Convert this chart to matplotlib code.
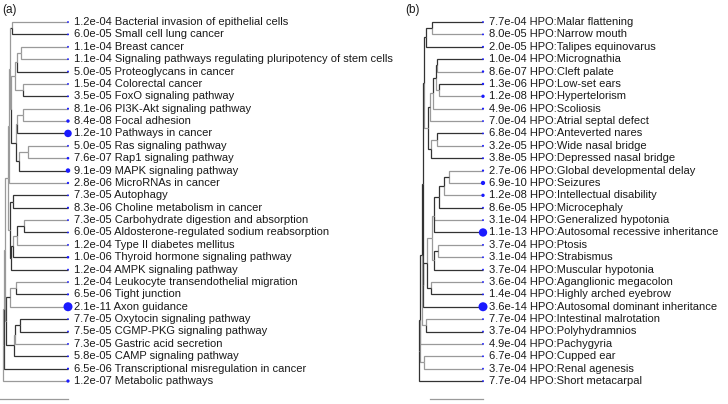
import math
import matplotlib
matplotlib.use("Agg")
import matplotlib.pyplot as plt

plt.rcParams['font.family'] = ['Liberation Sans', 'DejaVu Sans']

# ---- panel (a): KEGG terms ----
kegg_p = [1.2e-04, 6.0e-05, 1.1e-04, 1.1e-04, 5.0e-05, 1.5e-04, 3.5e-05, 8.1e-06,
          8.4e-08, 1.2e-10, 5.0e-05, 7.6e-07, 9.1e-09, 2.8e-06, 7.3e-05, 8.3e-06,
          7.3e-05, 6.0e-05, 1.2e-04, 1.0e-06, 1.2e-04, 1.2e-04, 6.5e-06, 2.1e-11,
          7.7e-05, 7.5e-05, 7.3e-05, 5.8e-05, 6.5e-06, 1.2e-07]
kegg_terms = ["Bacterial invasion of epithelial cells", "Small cell lung cancer",
              "Breast cancer", "Signaling pathways regulating pluripotency of stem cells",
              "Proteoglycans in cancer", "Colorectal cancer", "FoxO signaling pathway",
              "PI3K-Akt signaling pathway", "Focal adhesion", "Pathways in cancer",
              "Ras signaling pathway", "Rap1 signaling pathway", "MAPK signaling pathway",
              "MicroRNAs in cancer", "Autophagy", "Choline metabolism in cancer",
              "Carbohydrate digestion and absorption",
              "Aldosterone-regulated sodium reabsorption", "Type II diabetes mellitus",
              "Thyroid hormone signaling pathway", "AMPK signaling pathway",
              "Leukocyte transendothelial migration", "Tight junction", "Axon guidance",
              "Oxytocin signaling pathway", "CGMP-PKG signaling pathway",
              "Gastric acid secretion", "CAMP signaling pathway",
              "Transcriptional misregulation in cancer", "Metabolic pathways"]
kegg_leaf_col = "gkggkgkggkggkgkkgkgkkgkgkkgkkg"
kegg_leaf_depth = 65.3
# internal node = [depth, edge colour, children...]; ints are leaf numbers
kegg_tree = [0, 'g',
             [0.8, 'g',
              [1.8, 'g',
               [5.6, 'g',
                [6.6, 'g',
                 [7.6, 'g',
                  [7.6, 'g', [9.3, 'k', 1, 2]],
                  [8.5, 'g',
                   [12.3, 'g', [14.3, 'g', [18.3, 'g', 3, 4], 5], [20.3, 'g', 6, 7]],
                   [12.8, 'k', [14.3, 'g', [20.3, 'g', 8, 9], 10],
                    [16.3, 'k', [25.3, 'g', 11, 12], 13]]]],
                 14],
                [7.6, 'g',
                 [10.3, 'k', 15, 16],
                 [8.6, 'k', [9.8, 'k', [14.3, 'g', [21.3, 'k', 17, 18], 19], 20], 21]]],
               [3.3, 'g',
                [7.3, 'k', [13.3, 'g', 22, 23], 24],
                [11.3, 'k', [12.3, 'g', [17.3, 'k', 25, 26], 27], 28]]],
              29],
             30]

# ---- panel (b): HPO terms ----
hpo_p = [7.7e-04, 8.0e-05, 2.0e-05, 1.0e-04, 8.6e-07, 1.3e-06, 1.2e-08, 4.9e-06,
         7.0e-04, 6.8e-04, 3.2e-05, 3.8e-05, 2.7e-06, 6.9e-10, 1.2e-08, 8.6e-05,
         3.1e-04, 1.1e-13, 3.7e-04, 3.1e-04, 3.7e-04, 3.6e-04, 1.4e-04, 3.6e-14,
         7.7e-04, 3.7e-04, 4.9e-04, 6.7e-04, 3.7e-04, 7.7e-04]
hpo_terms = ["Malar flattening", "Narrow mouth", "Talipes equinovarus", "Micrognathia",
             "Cleft palate", "Low-set ears", "Hypertelorism", "Scoliosis",
             "Atrial septal defect", "Anteverted nares", "Wide nasal bridge",
             "Depressed nasal bridge", "Global developmental delay", "Seizures",
             "Intellectual disability", "Microcephaly", "Generalized hypotonia",
             "Autosomal recessive inheritance", "Ptosis", "Strabismus",
             "Muscular hypotonia", "Aganglionic megacolon", "Highly arched eyebrow",
             "Autosomal dominant inheritance", "Intestinal malrotation",
             "Polyhydramnios", "Pachygyria", "Cupped ear", "Renal agenesis",
             "Short metacarpal"]
hpo_leaf_col = "kgkkgkgggkgkgggkgkggkgkkgkgggk"
hpo_leaf_depth = 64
hpo_tree = [0, 'k',
            [1, 'k',
             [2.5, 'k',
              [3.8, 'k',
               [4.5, 'k', [6.5, 'k', [13, 'k', 1, 2], 3],
                [9, 'g', [11, 'k', [13.7, 'g', [17, 'k', [18, 'k', 4, 5], [20, 'g', 6, 7]], 8], 9],
                 [12, 'k', [17.7, 'g', 10, 11], 12]]],
               [4.3, 'k',
                [8, 'k',
                 [12.5, 'g',
                  [14.5, 'g', [20.3, 'k', [25, 'k', [30, 'k', 13, 14], 15], 16], 17, 18],
                  [15, 'g', [19.3, 'k', 19, 20], 21]],
                 [11.7, 'k', 22, 23]],
                24]],
              [7, 'g', 25, 26]],
             27, [5, 'g', 28, 29]],
            30]

# tree-scale bars (start, end) in branch-length units
scale_a = (-2.7, 65.3)
scale_b = (11, 64)

blue = '#1a1aff'
row_top, row_step = 22, 12.38


def draw_tree(ax, tree, leaf_col, leaf_depth):
    def rec(node):
        if isinstance(node, int):
            return leaf_depth, node - 1
        depth = node[0]
        kids = [rec(ch) for ch in node[2:]]
        y = sum(k[1] for k in kids) / len(kids)
        for ch, (cx, cy) in zip(node[2:], kids):
            c = leaf_col[ch - 1] if isinstance(ch, int) else ch[1]
            c = '#9a9a9a' if c == 'g' else '#333333'
            ax.plot([depth, depth, cx], [y, cy, cy], color=c, lw=0.9,
                    solid_capstyle='butt', solid_joinstyle='miter')
        return depth, y

    rec(tree)


def panel(ax, tree, leaf_col, leaf_depth, pvals, terms, prefix, scale, xlim):
    draw_tree(ax, tree, leaf_col, leaf_depth)
    lp = [-math.log10(p) for p in pvals]
    vmin, vmax = min(lp), max(lp)
    sizes = []
    for v in lp:
        r = 0.9 + 3.6 * ((v - vmin) / (vmax - vmin)) ** 2
        sizes.append((2 * r * 0.72) ** 2)
    ys = list(range(len(pvals)))
    ax.scatter([leaf_depth] * len(pvals), ys, s=sizes, color=blue, zorder=3,
               linewidths=0)
    for y, p, t in zip(ys, pvals, terms):
        ax.annotate(f"{p:.1e} {prefix}{t}", xy=(leaf_depth, y), xytext=(4.5, 0),
                    textcoords='offset points', va='center', ha='left',
                    fontsize=8.0, color='#1a1a1a')
    ax.plot(scale, [29 + 18 / row_step] * 2, color='#9a9a9a', lw=0.9)
    ax.set_xlim(*xlim)
    ax.set_ylim((404 - row_top) / row_step, -row_top / row_step)
    ax.axis('off')


fig = plt.figure(figsize=(7.28, 4.04), dpi=100)
ax_a = fig.add_axes([0, 0, 0.5, 1])
ax_b = fig.add_axes([0.5, 0, 0.5, 1])
panel(ax_a, kegg_tree, kegg_leaf_col, kegg_leaf_depth, kegg_p, kegg_terms, "",
      scale_a, (-2.7, 361.3))
panel(ax_b, hpo_tree, hpo_leaf_col, hpo_leaf_depth, hpo_p, hpo_terms, "HPO:",
      scale_b, (-55, 309))
fig.text(2 / 728, 1 - 10 / 404, "(a)", fontsize=8.5, va='center', ha='left', color='#1a1a1a')
fig.text(405 / 728, 1 - 10 / 404, "(b)", fontsize=8.5, va='center', ha='left', color='#1a1a1a')
fig.savefig("out.png", dpi=100)
